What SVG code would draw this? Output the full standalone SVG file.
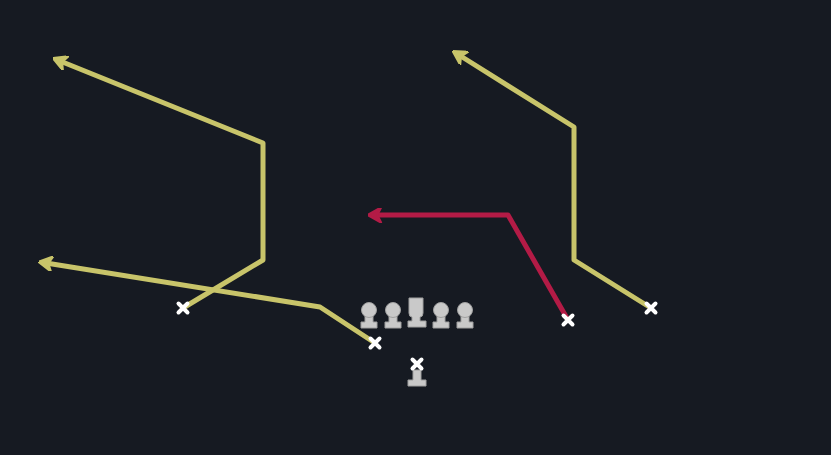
<svg xmlns="http://www.w3.org/2000/svg" width="831" height="455" viewBox="0 0 831 455">
<defs>
<style>
.route{fill:none;stroke-width:5;stroke-linejoin:round;stroke-linecap:round}
.y{stroke:#c8c46a}
.r{stroke:#b31b46}
.x{stroke:#ffffff;stroke-width:4;stroke-linecap:round}
.pl{fill:#c9c9c9;stroke:#a0a0a0;stroke-width:1}
</style>
<marker id="ay" viewBox="0 0 10 10" refX="5" refY="5" markerWidth="3" markerHeight="3" orient="auto" markerUnits="strokeWidth">
<path d="M10,5 L1,0 L3.5,5 L1,10 Z" fill="#c8c46a" stroke="#c8c46a" stroke-width="1.5" stroke-linejoin="round"/>
</marker>
<marker id="ar" viewBox="0 0 10 10" refX="5" refY="5" markerWidth="3" markerHeight="3" orient="auto" markerUnits="strokeWidth">
<path d="M10,5 L1,0 L3.5,5 L1,10 Z" fill="#b31b46" stroke="#b31b46" stroke-width="1.5" stroke-linejoin="round"/>
</marker>
<g id="xmark"><path class="x" d="M-4.5,-4.5 L4.5,4.5 M4.5,-4.5 L-4.5,4.5"/></g>
<g id="lineman"><path class="pl" d="M-4,5 L-4,12 L-8,12 L-8,18 L8,18 L8,12 L4,12 L4,5 Z"/><circle class="pl" cx="0" cy="0" r="7.5"/></g>
</defs>
<rect width="831" height="455" fill="#161a22"/>
<g id="connectors">
<polyline class="route y" points="183,308 263,260 263,143 60,61" marker-end="url(#ay)"/>
<polyline class="route y" points="375,343 320,307 46,263" marker-end="url(#ay)"/>
<polyline class="route r" points="568,320 508,215 375,215" marker-end="url(#ar)"/>
<polyline class="route y" points="651,308 574,260 574,127 459,55" marker-end="url(#ay)"/>
</g>
<g id="receiver-left"><use href="#xmark" x="183" y="308"/></g>
<g id="receiver-slot"><use href="#xmark" x="375" y="343"/></g>
<g id="receiver-red"><use href="#xmark" x="568" y="320"/></g>
<g id="receiver-right"><use href="#xmark" x="651" y="308"/></g>
<g id="lt"><use href="#lineman" x="369" y="310"/></g>
<g id="lg"><use href="#lineman" x="393" y="310"/></g>
<g id="center"><path class="pl" d="M409,298 L423,298 L423,313 Q423,317 420,317 L420,321 L426,321 L426,327 L408,327 L408,321 L412,321 L412,317 Q409,317 409,313 Z"/></g>
<g id="rg"><use href="#lineman" x="441" y="310"/></g>
<g id="rt"><use href="#lineman" x="465" y="310"/></g>
<g id="qb"><path class="pl" d="M413,370 L413,380 L408,380 L408,386 L426,386 L426,380 L421,380 L421,370 Z"/><use href="#xmark" x="417" y="364"/></g>
</svg>
